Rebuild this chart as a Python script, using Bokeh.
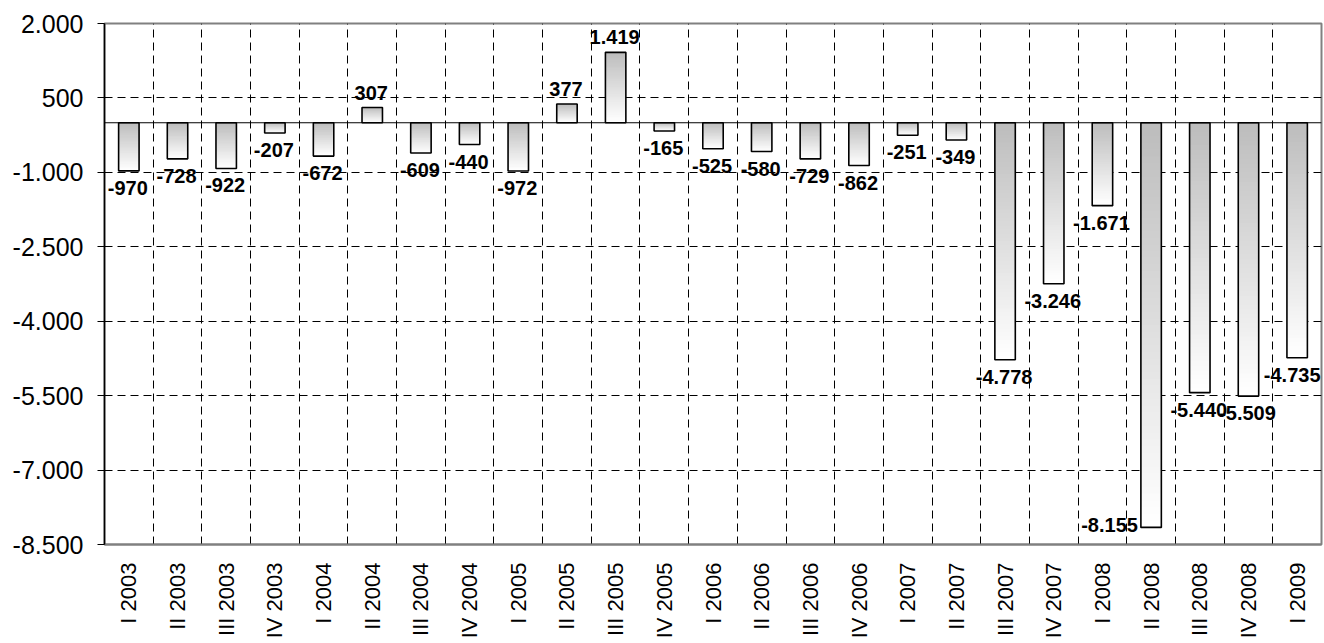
import math
from bokeh.plotting import figure
from bokeh.models import ColumnDataSource, FixedTicker, Span
from bokeh.core.properties import value
from bokeh.embed import file_html
from bokeh.resources import INLINE

categories = ["I 2003", "II 2003", "III 2003", "IV 2003",
              "I 2004", "II 2004", "III 2004", "IV 2004",
              "I 2005", "II 2005", "III 2005", "IV 2005",
              "I 2006", "II 2006", "III 2006", "IV 2006",
              "I 2007", "II 2007", "III 2007", "IV 2007",
              "I 2008", "II 2008", "III 2008", "IV 2008",
              "I 2009"]
values = [-970, -728, -922, -207,
          -672, 307, -609, -440,
          -972, 377, 1419, -165,
          -525, -580, -729, -862,
          -251, -349, -4778, -3246,
          -1671, -8155, -5440, -5509,
          -4735]
y_ticks = [2000, 500, -1000, -2500, -4000, -5500, -7000, -8500]

Y_MIN, Y_MAX = -8500, 2000
BAR_W = 0.42
FONT = "Liberation Sans"
FRAME_W = 1217
LABEL_PX = 20


def fmt(v):
    return f"{v:,}".replace(",", ".")


xs = list(range(1, len(categories) + 1))
X_MAX = len(categories) + 0.5

p = figure(frame_width=FRAME_W, frame_height=521,
           x_range=(0.5, X_MAX), y_range=(Y_MIN, Y_MAX),
           output_backend="svg", toolbar_location=None,
           min_border_left=104, min_border_right=3, min_border_top=23,
           min_border_bottom=90)
p.background_fill_color = "white"
p.border_fill_color = "white"
p.outline_line_color = "#808080"
p.outline_line_width = 2

# gradient bars: overlapping slices from grey (top) to white (bottom)
N = 60
g0 = (189, 189, 189)
g1 = (255, 255, 255)
sl = dict(left=[], right=[], top=[], bottom=[], color=[])
for x, v in zip(xs, values):
    top, bot = max(v, 0), min(v, 0)
    h = (top - bot) / N
    for k in range(N):
        t = k / (N - 1)
        c = tuple(int(round(g0[j] + (g1[j] - g0[j]) * t)) for j in range(3))
        sl["left"].append(x - BAR_W / 2)
        sl["right"].append(x + BAR_W / 2)
        sl["top"].append(top - k * h)
        sl["bottom"].append(bot)
        sl["color"].append("#%02x%02x%02x" % c)
p.quad(left="left", right="right", top="top", bottom="bottom",
       fill_color="color", line_color=None, source=ColumnDataSource(sl))

p.vbar(x=xs, top=values, bottom=0, width=BAR_W, fill_alpha=0,
       line_color="black", line_width=1.6)

p.add_layout(Span(location=0, dimension="width", line_color="black",
                  line_width=1.2))

# labels
units_per_px = (X_MAX - 0.5) / FRAME_W
groups = {k: dict(x=[], y=[], t=[]) for k in ("neg", "pos", "ovf", "edge")}
for x, v in zip(xs, values):
    t = fmt(v)
    half_w = 0.55 * LABEL_PX * len(t) / 2 * units_per_px
    if v >= 0:
        g, gx = "pos", x
    elif v - 700 < Y_MIN:
        g, gx = "ovf", x - BAR_W / 2
    elif x + half_w > X_MAX:
        g, gx = "edge", X_MAX
    else:
        g, gx = "neg", x
    groups[g]["x"].append(gx)
    groups[g]["y"].append(v)
    groups[g]["t"].append(t)

common = dict(text="t", text_font=value(FONT), text_font_style="bold",
              text_font_size=f"{LABEL_PX}px", text_color="black")
p.text(x="x", y="y", source=ColumnDataSource(groups["neg"]), text_align="center",
       text_baseline="top", x_offset=-1, y_offset=10, **common)
p.text(x="x", y="y", source=ColumnDataSource(groups["edge"]), text_align="right",
       text_baseline="top", x_offset=-1, y_offset=10, **common)
p.text(x="x", y="y", source=ColumnDataSource(groups["pos"]), text_align="center",
       text_baseline="bottom", x_offset=-1, y_offset=-8, **common)
p.text(x="x", y="y", source=ColumnDataSource(groups["ovf"]), text_align="right",
       text_baseline="bottom", x_offset=-3, y_offset=5, **common)

# grids
p.xgrid.ticker = FixedTicker(ticks=[x + 0.5 for x in xs[:-1]])
p.xgrid.grid_line_color = "black"
p.xgrid.grid_line_dash = "8 5"
p.xgrid.grid_line_width = 1
p.ygrid.ticker = FixedTicker(ticks=[t for t in y_ticks if Y_MIN < t < Y_MAX])
p.ygrid.grid_line_color = "black"
p.ygrid.grid_line_dash = "8 5"
p.ygrid.grid_line_width = 1

# y axis
p.yaxis.ticker = FixedTicker(ticks=y_ticks)
p.yaxis.major_label_overrides = {t: fmt(t) for t in y_ticks}
p.yaxis.minor_tick_line_color = None
p.yaxis.major_tick_in = 0
p.yaxis.major_tick_out = 7
p.yaxis.major_tick_line_color = "black"
p.yaxis.axis_line_color = "black"
p.yaxis.axis_line_width = 1.5
p.yaxis.major_label_text_font = FONT
p.yaxis.major_label_text_font_size = "25px"
p.yaxis.major_label_text_color = "black"
p.yaxis.major_label_standoff = 14

# x axis
p.xaxis.ticker = FixedTicker(ticks=xs)
p.xaxis.major_label_overrides = {x: c for x, c in zip(xs, categories)}
p.xaxis.major_label_orientation = math.pi / 2
p.xaxis.minor_tick_line_color = None
p.xaxis.major_tick_line_color = None
p.xaxis.axis_line_color = "#808080"
p.xaxis.axis_line_width = 2
p.xaxis.major_label_text_font = FONT
p.xaxis.major_label_text_font_size = "22px"
p.xaxis.major_label_text_color = "black"
p.xaxis.major_label_standoff = 12

open("out.html", "w").write(file_html(p, INLINE))
